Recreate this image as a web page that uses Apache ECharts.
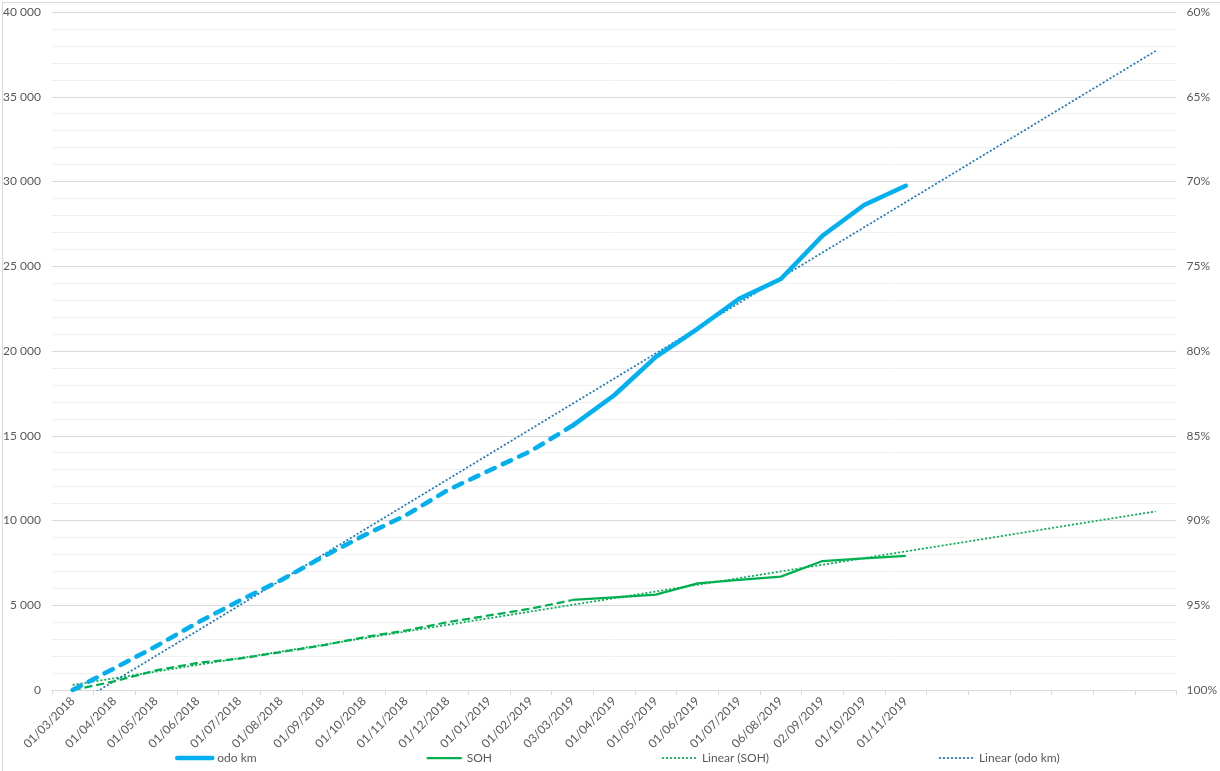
<!DOCTYPE html>
<html>
<head>
<meta charset="utf-8">
<script src="https://cdn.jsdelivr.net/npm/echarts@6/dist/echarts.min.js"></script>
<style>
  html, body { margin: 0; padding: 0; background: #ffffff; }
  #chart { width: 1220px; height: 771px; }
</style>
</head>
<body>
<div id="chart"></div>
<script>
// ---- data ----
const categories = ['01/03/2018','01/04/2018','01/05/2018','01/06/2018','01/07/2018','01/08/2018',
  '01/09/2018','01/10/2018','01/11/2018','01/12/2018','01/01/2019','01/02/2019','03/03/2019',
  '01/04/2019','01/05/2019','01/06/2019','01/07/2019','06/08/2019','02/09/2019','01/10/2019','01/11/2019'];
const odoKm = [0, 1280, 2580, 3980, 5260, 6480, 7850, 9130, 10310, 11790, 12950, 14100, 15600,
  17390, 19650, 21310, 23080, 24250, 26800, 28610, 29750];
const sohPct = [100, 99.49, 98.84, 98.4, 98.15, 97.76, 97.37, 96.88, 96.49, 96.0, 95.6, 95.2, 94.69,
  94.53, 94.37, 93.71, 93.51, 93.31, 92.39, 92.24, 92.08];
const lastDashedIndex = 12;      // dashed up to 03/03/2019, solid afterwards
const forecastPeriods = 6;       // trendlines forecast forward
const odoTicks = { min: 0, max: 40000, interval: 5000 };
const sohTicks = { min: 60, max: 100, interval: 5 };

// ---- derived ----
const allCats = categories.concat(new Array(forecastPeriods).fill(''));
const dashedPart = arr => arr.map((v, i) => i <= lastDashedIndex ? v : null);
const solidPart = arr => arr.map((v, i) => i >= lastDashedIndex ? v : null);
function linearTrend(arr, total) {
  const n = arr.length;
  let sx = 0, sy = 0, sxy = 0, sxx = 0;
  arr.forEach((y, i) => { const x = i + 1; sx += x; sy += y; sxy += x * y; sxx += x * x; });
  const b = (n * sxy - sx * sy) / (n * sxx - sx * sx);
  const a = (sy - b * sx) / n;
  const out = [];
  for (let i = 0; i < total; i++) out.push(a + b * (i + 1));
  return out;
}
const odoTrend = linearTrend(odoKm, allCats.length);
const sohTrend = linearTrend(sohPct, allCats.length);

const FONT = 'Lato';
const TXT = '#595959';
const BLUE = '#00B0F0', GREEN = '#00B050', TREND_BLUE = '#1F77C4';

const chart = echarts.init(document.getElementById('chart'), null, { renderer: 'canvas' });
chart.setOption({
  animation: false,
  backgroundColor: '#ffffff',
  textStyle: { fontFamily: FONT },
  graphic: [{
    type: 'rect', left: 0, top: 0, z: -1,
    shape: { x: 0.5, y: 0.5, width: 1218, height: 769 },
    style: { fill: 'none', stroke: '#d9d9d9', lineWidth: 1 }
  }],
  grid: { left: 46, right: 41, top: 12, bottom: 81, containLabel: false },
  legend: {
    data: ['odo km', 'SOH', 'Linear (SOH)', 'Linear (odo km)'],
    top: 747, left: 170,
    itemWidth: 35, itemHeight: 14, itemGap: 169,
    itemStyle: { opacity: 0 },
    lineStyle: { width: 'inherit' },
    textStyle: { color: TXT, fontSize: 12, fontFamily: FONT }
  },
  xAxis: {
    type: 'category',
    data: allCats,
    boundaryGap: true,
    axisLine: { lineStyle: { color: '#d9d9d9', width: 1 } },
    axisTick: { show: true, length: 5, lineStyle: { color: '#d9d9d9' }, interval: 0 },
    axisLabel: { interval: 0, rotate: 45, color: TXT, fontSize: 12, margin: 9, fontFamily: FONT },
    splitLine: { show: false }
  },
  yAxis: [{
    type: 'value',
    min: odoTicks.min, max: odoTicks.max, interval: odoTicks.interval,
    axisLine: { show: false }, axisTick: { show: false },
    axisLabel: {
      color: TXT, fontSize: 12, margin: 11, fontFamily: FONT,
      formatter: v => String(v).replace(/\B(?=(\d{3})+(?!\d))/g, ' ')
    },
    splitLine: { lineStyle: { color: '#d9d9d9', width: 1 } },
    minorTick: { show: false, splitNumber: 5 },
    minorSplitLine: { show: true, lineStyle: { color: '#f0f0f0', width: 1 } }
  }, {
    type: 'value',
    min: sohTicks.min, max: sohTicks.max, interval: sohTicks.interval,
    inverse: true,
    position: 'right',
    axisLine: { show: false }, axisTick: { show: false },
    axisLabel: { color: TXT, fontSize: 12, margin: 10, fontFamily: FONT, formatter: '{value}%' },
    splitLine: { show: false }
  }],
  series: [
    {
      name: 'odo km', type: 'line', yAxisIndex: 0, data: solidPart(odoKm),
      symbol: 'none', connectNulls: false, z: 5,
      lineStyle: { color: BLUE, width: 4.5, cap: 'round', join: 'round' },
      itemStyle: { color: BLUE }
    },
    {
      name: 'odo km (dashed)', type: 'line', yAxisIndex: 0, data: dashedPart(odoKm),
      symbol: 'none', z: 5,
      lineStyle: { color: BLUE, width: 4.5, type: [9, 9], cap: 'round', join: 'round' },
      itemStyle: { color: BLUE }
    },
    {
      name: 'SOH', type: 'line', yAxisIndex: 1, data: solidPart(sohPct),
      symbol: 'none', z: 4,
      lineStyle: { color: GREEN, width: 2.25 },
      itemStyle: { color: GREEN }
    },
    {
      name: 'SOH (dashed)', type: 'line', yAxisIndex: 1, data: dashedPart(sohPct),
      symbol: 'none', z: 4,
      lineStyle: { color: GREEN, width: 2.25, type: [8, 4] },
      itemStyle: { color: GREEN }
    },
    {
      name: 'Linear (SOH)', type: 'line', yAxisIndex: 1, data: sohTrend,
      symbol: 'none', z: 3,
      lineStyle: { color: GREEN, width: 1.75, type: [2, 2] },
      itemStyle: { color: GREEN }
    },
    {
      name: 'Linear (odo km)', type: 'line', yAxisIndex: 0, data: odoTrend,
      symbol: 'none', z: 3, clip: true,
      lineStyle: { color: TREND_BLUE, width: 1.75, type: [2, 2] },
      itemStyle: { color: TREND_BLUE }
    }
  ]
});
</script>
</body>
</html>
